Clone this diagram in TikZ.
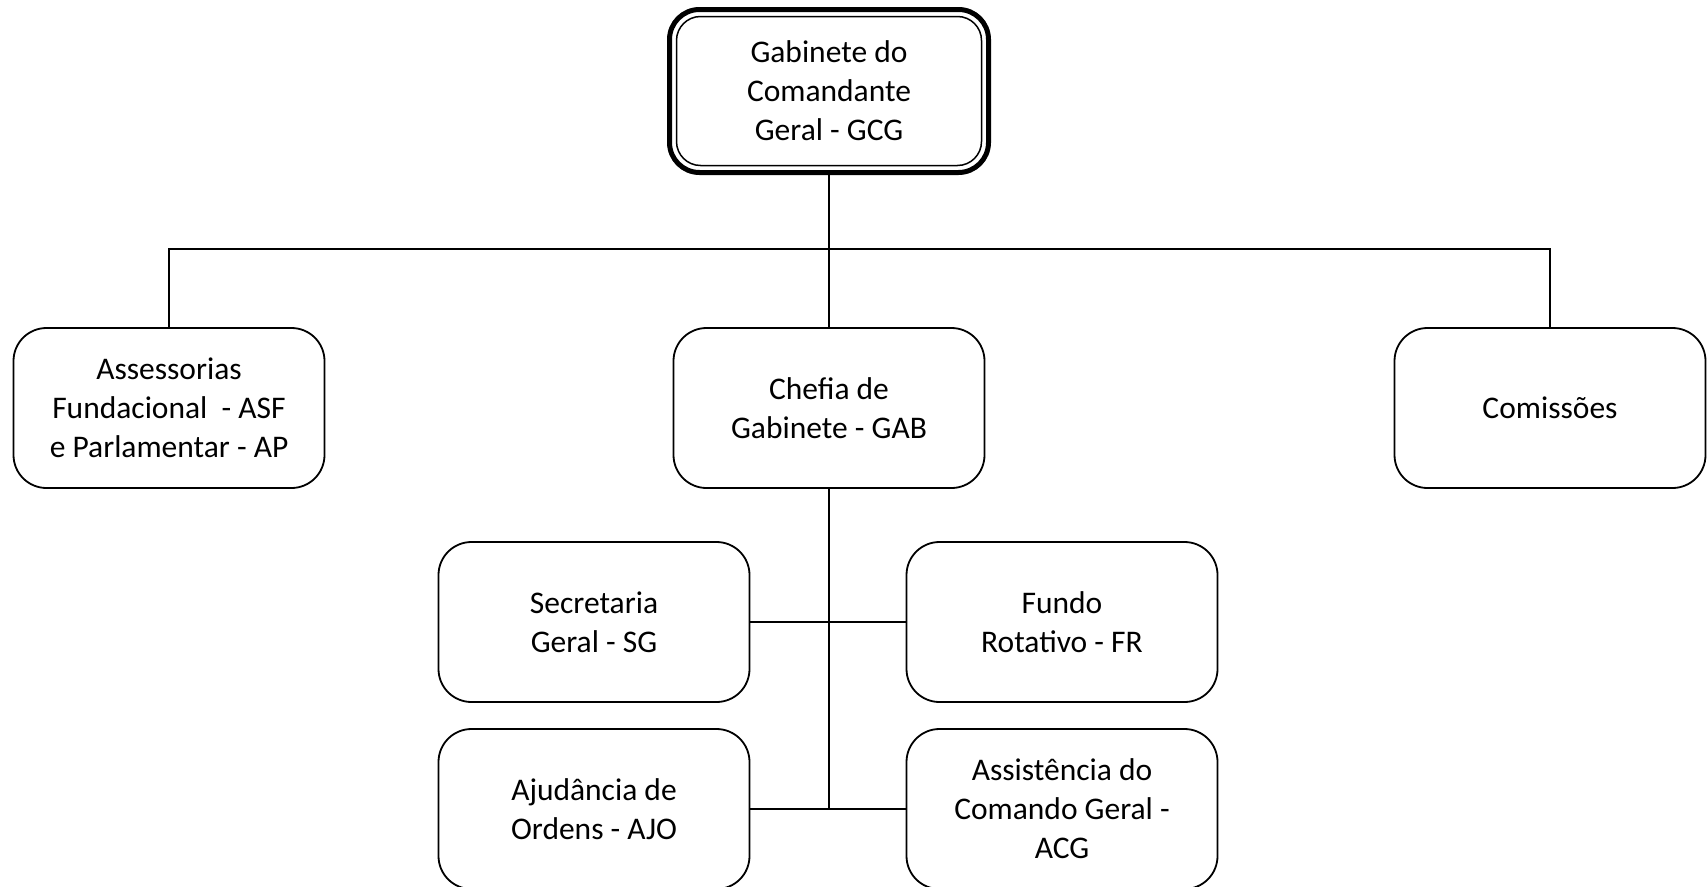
\documentclass[tikz,border=0pt]{standalone}
\usepackage{fontspec}
\setmainfont{Carlito}
\begin{document}
\begin{tikzpicture}[x=1pt,y=-1pt,
  box/.style={draw, line width=1.8pt, rounded corners=33pt, minimum width=311pt, minimum height=160pt, inner sep=0pt, outer sep=0pt, align=center, font=\fontsize{31.5}{39}\selectfont},
  topbox/.style={box, line width=5pt, rounded corners=30pt, minimum width=319pt, minimum height=163pt},
  conn/.style={line width=1.4pt}]
\useasboundingbox (0,0) rectangle (1707,886);
\node[topbox] (gcg) at (829,91) {Gabinete do\\Comandante\\Geral - GCG};
\draw[line width=1.5pt, rounded corners=24pt] ([xshift=7pt,yshift=-7pt]gcg.north west) rectangle ([xshift=-7pt,yshift=7pt]gcg.south east);
\node[box] (asf) at (169,408) {Assessorias\\Fundacional\ \ - ASF\\e Parlamentar - AP};
\node[box] (gab) at (829,408) {Chefia de\\Gabinete - GAB};
\node[box] (com) at (1550,408) {Comissões};
\node[box] (sg) at (594,622) {Secretaria\\Geral - SG};
\node[box] (fr) at (1062,622) {Fundo\\Rotativo - FR};
\node[box] (ajo) at (594,809) {Ajudância de\\Ordens - AJO};
\node[box] (acg) at (1062,809) {Assistência do\\Comando Geral -\\ACG};
\coordinate (bus) at (829,249);
\coordinate (j1) at (829,622);
\coordinate (j2) at (829,809);
\draw[conn] (gcg.south) -- (bus);
\draw[conn] (asf.north) -- (asf.north |- bus) -- (com.north |- bus) -- (com.north);
\draw[conn] (bus) -- (gab.north);
\draw[conn] (gab.south) -- (j2);
\draw[conn] (sg.east |- j1) -- (fr.west |- j1);
\draw[conn] (ajo.east |- j2) -- (acg.west |- j2);
\end{tikzpicture}
\end{document}
